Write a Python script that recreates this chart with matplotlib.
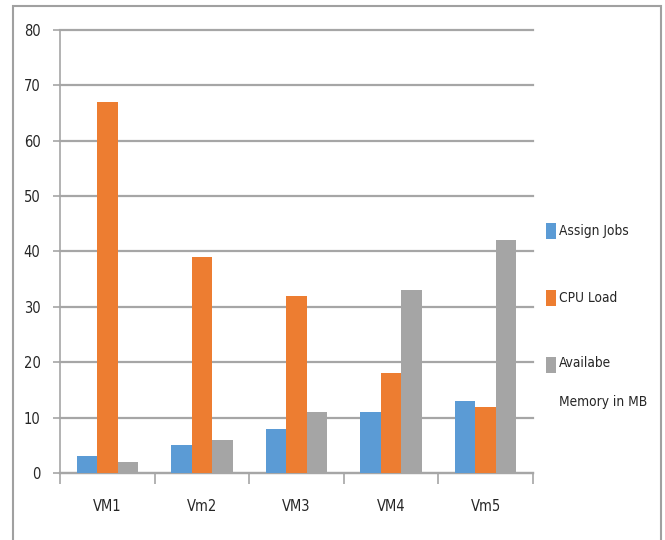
import matplotlib
matplotlib.use("Agg")
import matplotlib.pyplot as plt
import numpy as np
from matplotlib.patches import Rectangle

categories = ["VM1", "Vm2", "VM3", "VM4", "Vm5"]
assign_jobs = [3, 5, 8, 11, 13]
cpu_load = [67, 39, 32, 18, 12]
avail_mem = [2, 6, 11, 33, 42]
series_labels = ["Assign Jobs", "CPU Load", "Availabe\nMemory in MB"]
yticks = [0, 10, 20, 30, 40, 50, 60, 70, 80]

colors = ["#5B9BD5", "#ED7D31", "#A5A5A5"]
grid_c = "#A6A6A6"
text_c = "#262626"

plt.rcParams['font.family'] = ['DejaVu Sans']
fig = plt.figure(figsize=(6.65, 5.4), dpi=100)
fig.patches.append(Rectangle((13/665, -0.1), (661-13)/665, 1.1 - 6/540,
                             transform=fig.transFigure, fill=False,
                             edgecolor="#A0A0A0", linewidth=1.5))

ax = fig.add_axes([60/665, 1-473/540, (533-60)/665, (473-30)/540])
x = np.arange(len(categories))
w = 0.217
for i, (vals, c, lab) in enumerate(zip([assign_jobs, cpu_load, avail_mem], colors, series_labels)):
    ax.bar(x + (i-1)*w, vals, width=w, color=c, label=lab, zorder=3)

ax.set_xlim(-0.5, len(categories)-0.5)
ax.set_ylim(0, 80)
ax.set_yticks(yticks)
ax.yaxis.grid(True, color=grid_c, linewidth=1.6, zorder=0)
for gl in ax.yaxis.get_gridlines():
    gl.set_clip_on(False)
for s in ["top", "right"]:
    ax.spines[s].set_visible(False)
ax.spines["left"].set_color(grid_c)
ax.spines["bottom"].set_color(grid_c)
ax.spines["left"].set_linewidth(1.2)
ax.spines["bottom"].set_linewidth(1.6)

ax.set_xticks(x)
ax.set_xticklabels(categories)
ax.tick_params(axis="x", length=0, pad=19)
ax.set_xticks(np.arange(-0.5, len(categories), 1), minor=True)
ax.tick_params(axis="x", which="minor", length=8, color=grid_c, width=1.2)
ax.tick_params(axis="y", length=5, color=grid_c, width=1.2, pad=9)
for t in ax.get_xticklabels() + ax.get_yticklabels():
    t.set_fontsize(10.5)
    t.set_fontstretch("condensed")
    t.set_color(text_c)

fs = 9.8
leg = ax.legend(loc="center left", bbox_to_anchor=(534/665, 0.415),
                bbox_transform=fig.transFigure, frameon=False,
                handlelength=0.7, handleheight=1.5, handletextpad=0.25,
                labelspacing=3.7, prop={"size": fs, "stretch": "condensed"})
for t in leg.get_texts():
    t.set_color(text_c)
    t.set_linespacing(3.25)
# align the multi-line entry's swatch with its first line
h = leg.legend_handles[2]
h.set_y(h.get_y() + 13.5)

fig.savefig("out.png", dpi=100)
